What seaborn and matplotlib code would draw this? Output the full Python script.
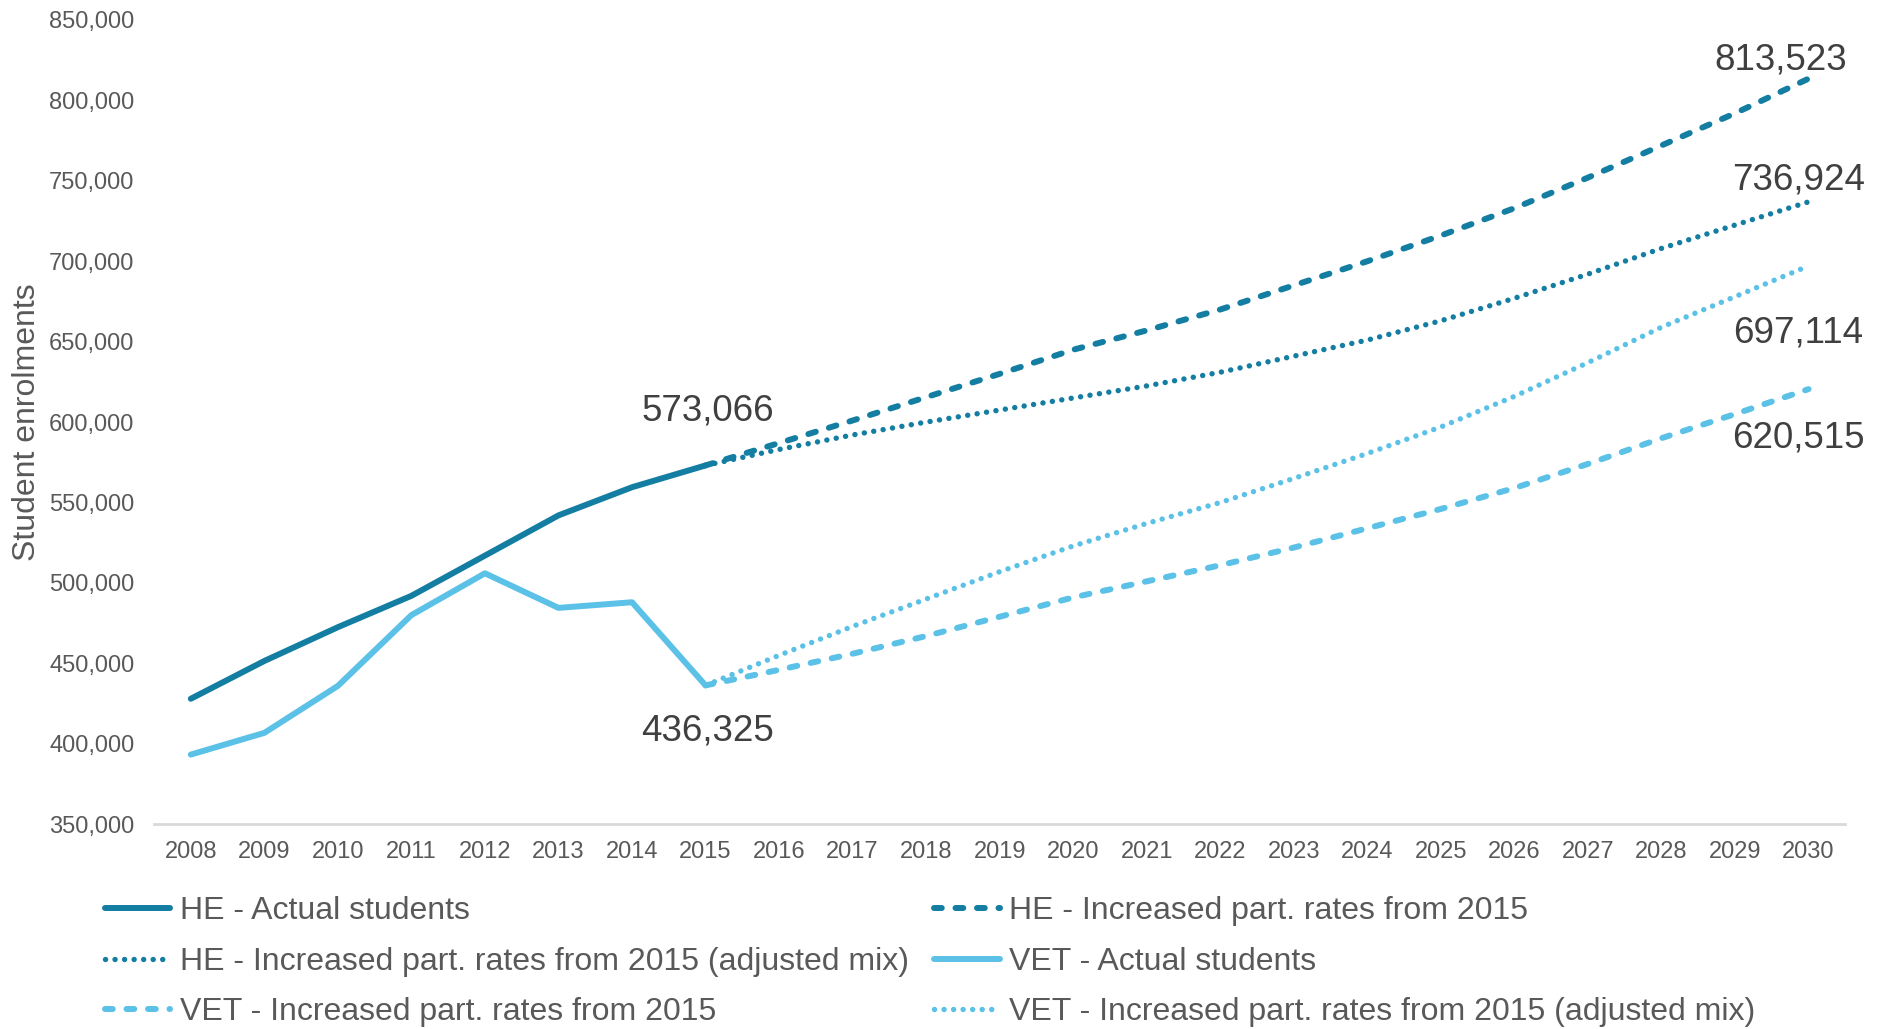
import numpy as np
import pandas as pd
import matplotlib
matplotlib.use("Agg")
import matplotlib.pyplot as plt
from matplotlib.ticker import FuncFormatter
import seaborn as sns

# Historical enrolments
actual_years = list(range(2008, 2016))
he_actual = [428000, 451500, 472500, 492000, 517000, 542000, 559500, 573066]
vet_actual = [393300, 406800, 436000, 480000, 506000, 484500, 488000, 436325]

# Projections from 2015
proj_years = list(range(2015, 2031))
he_increased = [573066, 587000, 601000, 615500, 630000, 645000, 657000, 670000,
                685000, 700000, 716000, 733000, 752000, 772000, 792000, 813523]
he_adjusted = [573066, 583000, 592000, 600000, 607500, 615000, 622500, 631000,
               641000, 651000, 663000, 677000, 692000, 708000, 722500, 736924]
vet_increased = [436325, 446000, 456000, 467000, 479000, 491000, 501000, 511000,
                 522000, 534000, 546000, 559000, 574000, 590000, 605000, 620515]
vet_adjusted = [436325, 455000, 473000, 490000, 507000, 523000, 537000, 550000,
                565000, 580500, 597000, 616000, 637000, 659000, 678000, 697114]

year_ticks = list(range(2008, 2031))

HE_COLOR = "#137DA2"
VET_COLOR = "#5BC1E7"

sns.set_theme(style="white")
plt.rcParams["font.family"] = ["Liberation Sans", "DejaVu Sans"]

fig = plt.figure(figsize=(18.83, 10.29), dpi=100)
ax = fig.add_axes([0.0818, 0.199, 0.8982, 0.7816])

DASHED = (0, (1.3, 2.3))
DOTTED = (0, (0.01, 1.75))

series = [
    ("HE - Actual students", actual_years, he_actual, HE_COLOR, "-", 4.3),
    ("HE - Increased part. rates from 2015", proj_years, he_increased, HE_COLOR, DASHED, 4.3),
    ("HE - Increased part. rates from 2015 (adjusted mix)", proj_years, he_adjusted, HE_COLOR, DOTTED, 3.9),
    ("VET - Actual students", actual_years, vet_actual, VET_COLOR, "-", 4.3),
    ("VET - Increased part. rates from 2015", proj_years, vet_increased, VET_COLOR, DASHED, 4.3),
    ("VET - Increased part. rates from 2015 (adjusted mix)", proj_years, vet_adjusted, VET_COLOR, DOTTED, 3.9),
]

handles = {}
for name, xs, ys, col, ls, lw in series:
    df = pd.DataFrame({"year": xs, "value": ys})
    sns.lineplot(data=df, x="year", y="value", ax=ax, color=col, linestyle=ls,
                 linewidth=lw, dash_capstyle="round", solid_capstyle="round",
                 solid_joinstyle="round")
    handles[name] = ax.lines[-1]

ax.set_xlim(2007.5, 2030.5)
ax.set_ylim(350000, 850000)
ax.set_xticks(year_ticks)
ax.set_yticks(np.arange(350000, 850001, 50000))
ax.yaxis.set_major_formatter(FuncFormatter(lambda v, p: f"{int(v):,}"))
ax.tick_params(axis="both", length=0, labelsize=17, colors="#595959")
ax.tick_params(axis="x", pad=12)
ax.tick_params(axis="y", pad=14)
ax.set_xlabel("")
ax.set_ylabel("Student enrolments", fontsize=23, color="#595959", labelpad=5)
for side in ["top", "right", "left"]:
    ax.spines[side].set_visible(False)
ax.spines["bottom"].set_color("#D9D9D9")
ax.spines["bottom"].set_linewidth(2)
ax.grid(False)

# Value labels on key points
label_style = dict(fontsize=26.5, color="#404040", ha="center", va="center",
                   textcoords="offset pixels")
ax.annotate(f"{he_actual[-1]:,}", (actual_years[-1], he_actual[-1]), xytext=(2, 54), **label_style)
ax.annotate(f"{vet_actual[-1]:,}", (actual_years[-1], vet_actual[-1]), xytext=(2, -46), **label_style)
ax.annotate(f"{he_increased[-1]:,}", (proj_years[-1], he_increased[-1]), xytext=(-28, 19), **label_style)
ax.annotate(f"{he_adjusted[-1]:,}", (proj_years[-1], he_adjusted[-1]), xytext=(-10, 22), **label_style)
ax.annotate(f"{vet_adjusted[-1]:,}", (proj_years[-1], vet_adjusted[-1]), xytext=(-10, -67), **label_style)
ax.annotate(f"{vet_increased[-1]:,}", (proj_years[-1], vet_increased[-1]), xytext=(-10, -49), **label_style)

# Legend laid out row by row across two columns
order = [
    "HE - Actual students",
    "HE - Increased part. rates from 2015 (adjusted mix)",
    "VET - Increased part. rates from 2015",
    "HE - Increased part. rates from 2015",
    "VET - Actual students",
    "VET - Increased part. rates from 2015 (adjusted mix)",
]
leg = fig.legend([handles[k] for k in order], order, loc="upper left",
                 bbox_to_anchor=(0.0555, 0.129), ncol=2, frameon=False,
                 fontsize=23, handlelength=2.05, handletextpad=0.3,
                 columnspacing=0.8, labelspacing=0.645, borderaxespad=0,
                 borderpad=0)
for t in leg.get_texts():
    t.set_color("#595959")

fig.savefig("out.png", dpi=100)
